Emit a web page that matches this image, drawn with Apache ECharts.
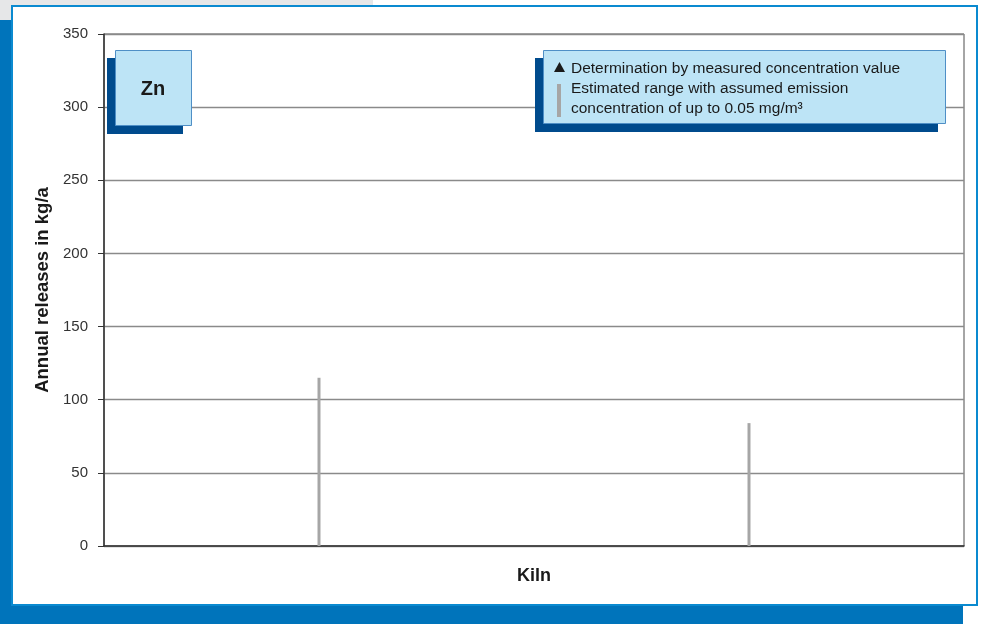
<!DOCTYPE html>
<html>
<head>
<meta charset="utf-8">
<script src="https://cdn.jsdelivr.net/npm/echarts@6/dist/echarts.min.js"></script>
<style>
html,body{margin:0;padding:0;background:#ffffff;}
#chart{width:981px;height:624px;}
</style>
</head>
<body>
<div id="chart"></div>
<script>
// ---- data ----
const categories = ['Kiln A', 'Kiln B'];
const estimatedUpper = [115, 84];      // upper end of estimated range (kg/a)
const measuredValues = [null, null];   // no measured values for Zn
const yTicks = [0, 50, 100, 150, 200, 250, 300, 350];
const elementLabel = 'Zn';
const legendMeasured = 'Determination by measured concentration value';
const legendEstimatedLines = ['Estimated range with assumed emission', 'concentration of up to 0.05 mg/m³'];
const xAxisTitle = 'Kiln';
const yAxisTitle = 'Annual releases in kg/a';

const FONT = '"Liberation Sans", Arial, sans-serif';
const chart = echarts.init(document.getElementById('chart'), null, {renderer: 'canvas'});

const option = {
  animation: false,
  textStyle: {fontFamily: FONT},
  grid: {left: 104, right: 17, top: 34, bottom: 78, show: true, borderColor: '#4d4d4d', borderWidth: 1, backgroundColor: 'transparent'},
  xAxis: {
    type: 'category',
    data: categories,
    name: xAxisTitle,
    nameLocation: 'middle',
    nameGap: 21,
    nameTextStyle: {fontFamily: FONT, fontWeight: 'bold', fontSize: 18, color: '#1a1a1a'},
    axisLine: {show: true, lineStyle: {color: '#333333', width: 1.5}},
    axisTick: {show: false},
    axisLabel: {show: false},
    splitLine: {show: false}
  },
  yAxis: {
    type: 'value',
    min: yTicks[0],
    max: yTicks[yTicks.length - 1],
    interval: yTicks[1] - yTicks[0],
    name: yAxisTitle,
    nameLocation: 'middle',
    nameGap: 40,
    nameRotate: 90,
    nameTextStyle: {fontFamily: FONT, fontWeight: 'bold', fontSize: 18.5, color: '#1a1a1a'},
    axisLine: {show: true, lineStyle: {color: '#333333', width: 1.5}},
    axisTick: {show: true, inside: false, length: 6, lineStyle: {color: '#333333'}},
    axisLabel: {margin: 16, fontFamily: FONT, fontSize: 15, color: '#333333'},
    splitLine: {show: true, lineStyle: {color: '#8a8a8a', width: 1.3}}
  },
  series: [
    {
      name: 'estimated',
      type: 'bar',
      data: estimatedUpper,
      barWidth: 3,
      itemStyle: {color: '#a6a6a6'},
      z: 5
    },
    {
      name: 'measured',
      type: 'scatter',
      data: measuredValues,
      symbol: 'triangle',
      symbolSize: 10,
      itemStyle: {color: '#1a1a1a'},
      z: 6
    }
  ],
  graphic: [
    // page decoration
    {type: 'rect', z: -100, shape: {x: 0, y: 0, width: 373, height: 20}, style: {fill: '#e6e7e8'}, silent: true},
    {type: 'rect', z: -99, shape: {x: 0, y: 20, width: 963, height: 604}, style: {fill: '#0074bb'}, silent: true},
    {type: 'rect', z: -98, shape: {x: 12, y: 6, width: 965, height: 599}, style: {fill: '#ffffff', stroke: '#0a8ad0', lineWidth: 2}, silent: true},
    // element label box
    {type: 'rect', z: 100, shape: {x: 107, y: 58, width: 76, height: 76}, style: {fill: '#004b8d'}, silent: true},
    {type: 'rect', z: 101, shape: {x: 115.5, y: 50.5, width: 76, height: 75}, style: {fill: '#bde4f6', stroke: '#4f8fc6', lineWidth: 1}, silent: true},
    {type: 'text', z: 102, x: 153, y: 89, style: {text: elementLabel, font: 'bold 20px ' + FONT, fill: '#1a1a1a', align: 'center', verticalAlign: 'middle'}, silent: true},
    // legend box
    {type: 'rect', z: 100, shape: {x: 535, y: 58, width: 403, height: 74}, style: {fill: '#004b8d'}, silent: true},
    {type: 'rect', z: 101, shape: {x: 543.5, y: 50.5, width: 402, height: 73}, style: {fill: '#bde4f6', stroke: '#4f8fc6', lineWidth: 1}, silent: true},
    {type: 'polygon', z: 102, shape: {points: [[559.5, 62], [554, 72], [565, 72]]}, style: {fill: '#1a1a1a'}, silent: true},
    {type: 'rect', z: 102, shape: {x: 557, y: 84, width: 4, height: 33}, style: {fill: '#a6a6a6'}, silent: true},
    {type: 'text', z: 102, x: 571, y: 69, style: {text: legendMeasured, font: '15.5px ' + FONT, fill: '#1a1a1a', align: 'left', verticalAlign: 'middle'}, silent: true},
    {type: 'text', z: 102, x: 571, y: 89, style: {text: legendEstimatedLines[0], font: '15.5px ' + FONT, fill: '#1a1a1a', align: 'left', verticalAlign: 'middle'}, silent: true},
    {type: 'text', z: 102, x: 571, y: 109, style: {text: legendEstimatedLines[1], font: '15.5px ' + FONT, fill: '#1a1a1a', align: 'left', verticalAlign: 'middle'}, silent: true}
  ]
};
chart.setOption(option);
</script>
</body>
</html>
